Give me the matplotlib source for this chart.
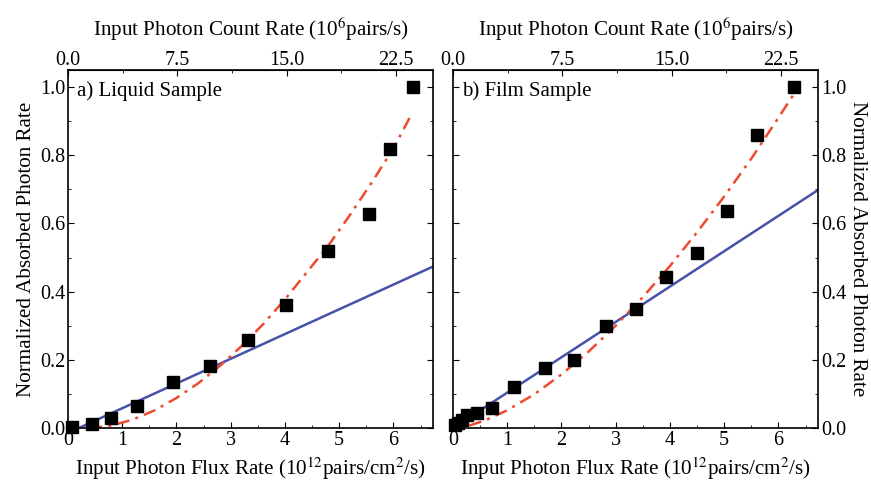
import numpy as np
import matplotlib.pyplot as plt
from matplotlib.ticker import MultipleLocator, FixedLocator

plt.rcParams['font.family'] = ['Liberation Serif', 'DejaVu Serif']
plt.rcParams['mathtext.fontset'] = 'stix'

# conversion between flux rate (bottom axis) and count rate (top axis)
COUNT_PER_FLUX = 3.72

# a) liquid sample
liq_x = [0.08, 0.45, 0.80, 1.27, 1.94, 2.62, 3.32, 4.02, 4.79, 5.55, 5.93, 6.36]
liq_y = [0.004, 0.013, 0.028, 0.065, 0.136, 0.183, 0.258, 0.362, 0.518, 0.629, 0.819, 1.0]
liq_lin_x = [0.2, 6.75]
liq_lin_y = [0.0, 0.475]
liq_fit_x = [0.4, 0.8, 1.2, 1.6, 2.0, 2.4, 2.8, 3.2, 3.6, 4.0, 4.4, 4.8, 5.2, 5.6, 6.0, 6.35]
liq_fit_y = [0.0, 0.007, 0.025, 0.052, 0.088, 0.131, 0.182, 0.240, 0.305, 0.377,
             0.456, 0.535, 0.625, 0.720, 0.820, 0.925]

# b) film sample
film_x = [0.04, 0.10, 0.17, 0.26, 0.45, 0.72, 1.12, 1.70, 2.24, 2.82, 3.37, 3.93,
          4.50, 5.06, 5.60, 6.28]
film_y = [0.008, 0.016, 0.022, 0.038, 0.044, 0.060, 0.119, 0.175, 0.199, 0.299,
          0.348, 0.443, 0.514, 0.635, 0.858, 0.999]
film_lin_x = [0.0, 6.75]
film_lin_y = [0.0, 0.70]
film_fit_x = [0.3, 0.6, 1.0, 1.5, 2.0, 2.5, 3.0, 3.5, 4.0, 4.5, 5.0, 5.5, 6.0, 6.28]
film_fit_y = [0.007, 0.023, 0.052, 0.099, 0.157, 0.224, 0.300, 0.384, 0.475,
              0.574, 0.679, 0.790, 0.910, 0.978]

top_ticks = [0.0, 7.5, 15.0, 22.5]
blue = '#4752a8'
red = '#ee4a2c'
fs = 14.5     # tick labels
lfs = 15.2    # axis labels

fig = plt.figure(figsize=(8.71, 4.87), dpi=100)
axL = fig.add_axes([68 / 871, 1 - 428 / 487, 365 / 871, 358 / 487])
axR = fig.add_axes([453 / 871, 1 - 428 / 487, 365 / 871, 358 / 487])

panels = [
    (axL, liq_x, liq_y, liq_lin_x, liq_lin_y, liq_fit_x, liq_fit_y, 'a) Liquid Sample'),
    (axR, film_x, film_y, film_lin_x, film_lin_y, film_fit_x, film_fit_y, 'b) Film Sample'),
]

for ax, mx, my, lx, ly, fx, fy, title in panels:
    ax.plot(lx, ly, color=blue, lw=1.8, zorder=2)
    ax.plot(fx, fy, color=red, lw=1.8, ls=(0, (5, 2.5, 1.2, 2.5)), zorder=2)
    ax.plot(mx, my, 's', color='black', ms=8.5, zorder=3, clip_on=False)
    ax.set_xlim(0, 6.73)
    ax.set_ylim(0, 1.05)
    ax.xaxis.set_major_locator(MultipleLocator(1))
    ax.xaxis.set_minor_locator(MultipleLocator(0.5))
    ax.yaxis.set_major_locator(MultipleLocator(0.2))
    ax.yaxis.set_minor_locator(MultipleLocator(0.1))
    ax.yaxis.set_major_formatter(plt.FormatStrFormatter('%.1f'))
    ax.tick_params(which='both', direction='in', top=False, right=True,
                   labelsize=fs, pad=2)
    ax.tick_params(which='major', length=4)
    ax.tick_params(which='minor', length=2.5)
    for s in ax.spines.values():
        s.set_linewidth(1.2)
    ax.set_xlabel(r'Input Photon Flux Rate (10$^{12}$pairs/cm$^{2}$/s)',
                  fontsize=lfs, labelpad=4)
    ax.text(0.025, 0.94, title, transform=ax.transAxes, fontsize=15,
            ha='left', va='center')

    sec = ax.secondary_xaxis('top', functions=(lambda x: x * COUNT_PER_FLUX,
                                               lambda x: x / COUNT_PER_FLUX))
    sec.xaxis.set_major_locator(FixedLocator(top_ticks))
    sec.xaxis.set_minor_locator(MultipleLocator(3.75))
    sec.xaxis.set_major_formatter(plt.FormatStrFormatter('%.1f'))
    sec.tick_params(which='both', direction='in', labelsize=fs, pad=0)
    sec.tick_params(which='major', length=4)
    sec.tick_params(which='minor', length=2.5)
    sec.set_xlabel(r'Input Photon Count Rate (10$^{6}$pairs/s)', fontsize=lfs,
                   labelpad=11)

axL.set_ylabel('Normalized Absorbed Photon Rate', fontsize=lfs, labelpad=3)

axR.tick_params(axis='y', which='both', left=True, labelleft=False, labelright=True)
axR.yaxis.set_label_position('right')
axR.set_ylabel('Normalized Absorbed Photon Rate', fontsize=lfs, rotation=270,
               labelpad=15)

fig.savefig('out.png', dpi=100)
